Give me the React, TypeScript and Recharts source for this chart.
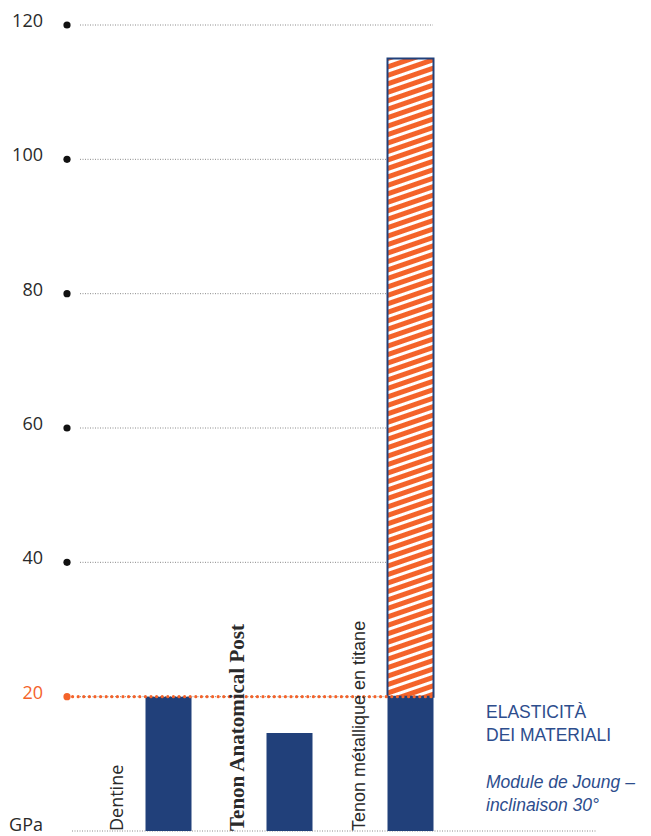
import React from "react";
import {
  BarChart,
  Bar,
  XAxis,
  YAxis,
  CartesianGrid,
  ReferenceLine,
} from "recharts";

const categories = ["Dentine", "Tenon Anatomical Post", "Tenon métallique en titane"];
const modulus = [20, 14.6, 115];
const threshold = 20;
const yTicks = [0, 20, 40, 60, 80, 100, 120];
const titleLines = ["ELASTICITÀ", "DEI MATERIALI"];
const subtitleLines = ["Module de Joung –", "inclinaison 30°"];

const data = categories.map((name, i) => ({
  name,
  base: Math.min(modulus[i], threshold),
  extra: modulus[i] > threshold ? modulus[i] - threshold : 0,
}));

const NAVY = "#21407a";
const ORANGE = "#f4632a";
const TEXT = "#2a2a2a";
const LEGEND = "#2d4d8d";

const DOT_X = 67;
const GRID_START = 80;
const GRID_END = 433;
const BASE_END = 597;
const PLOT_BOTTOM = 831;

const labelStyles = [
  { fontFamily: "Open Sans", fontSize: 18, fontWeight: 400 },
  { fontFamily: "Liberation Serif", fontSize: 21, fontWeight: 700 },
  { fontFamily: "Liberation Sans", fontSize: 18, fontWeight: 400 },
];

function YTick(props: any) {
  const { y, payload } = props;
  const v = payload.value;
  const isZero = v === 0;
  const isRef = v === threshold;
  return (
    <g>
      <text
        x={43}
        y={isZero ? y : y + 2}
        textAnchor="end"
        fontFamily="Open Sans"
        fontSize={18}
        fill={isRef ? ORANGE : TEXT}
      >
        {isZero ? "GPa" : v}
      </text>
      {!isZero && <circle cx={DOT_X} cy={y} r={3.6} fill={isRef ? ORANGE : "#111"} />}
    </g>
  );
}

function XTick(props: any) {
  const { x, payload, index } = props;
  const bx = x - 45;
  const by = PLOT_BOTTOM;
  const st = labelStyles[index] || labelStyles[0];
  return (
    <text
      x={bx}
      y={by}
      transform={`rotate(-90, ${bx}, ${by})`}
      textAnchor="start"
      fill={TEXT}
      {...st}
    >
      {payload.value}
    </text>
  );
}

function GridLine(props: any) {
  const { y1 } = props;
  const isBase = y1 > 825;
  return (
    <line
      x1={isBase ? 72 : GRID_START}
      x2={isBase ? BASE_END : GRID_END}
      y1={y1}
      y2={y1}
      stroke="#8a8a8a"
      strokeWidth={1}
      strokeDasharray="1 1.5"
    />
  );
}

function RefShape(props: any) {
  const { y1 } = props;
  return (
    <line
      x1={DOT_X}
      x2={GRID_END}
      y1={y1}
      y2={y1}
      stroke={ORANGE}
      strokeWidth={3.2}
      strokeLinecap="round"
      strokeDasharray="0 5.6"
    />
  );
}

export default function App() {
  return (
    <div style={{ position: "absolute", left: 0, top: 0, width: 651, height: 836, background: "#fff" }}>
      <BarChart
        width={651}
        height={836}
        data={data}
        margin={{ top: 25, right: 180.5, bottom: 0, left: 0 }}
      >
        <defs>
          <pattern
            id="hatch"
            patternUnits="userSpaceOnUse"
            width={20}
            height={8}
            patternTransform="rotate(-19)"
          >
            <rect x={0} y={0} width={20} height={8} fill={ORANGE} />
            <rect x={0} y={0} width={20} height={3} fill="#fff" />
          </pattern>
        </defs>
        <CartesianGrid vertical={false} horizontal={GridLine as any} />
        <YAxis
          type="number"
          domain={[0, 120]}
          ticks={yTicks}
          width={107.5}
          axisLine={false}
          tickLine={false}
          tick={YTick}
          interval={0}
        />
        <XAxis
          dataKey="name"
          height={5}
          axisLine={false}
          tickLine={false}
          tick={XTick}
          interval={0}
        />
        <Bar dataKey="base" stackId="a" fill={NAVY} barSize={46} isAnimationActive={false} />
        <Bar
          dataKey="extra"
          stackId="a"
          fill="url(#hatch)"
          stroke={NAVY}
          strokeWidth={2}
          barSize={46}
          isAnimationActive={false}
        />
        <ReferenceLine y={threshold} shape={RefShape} ifOverflow="visible" />
      </BarChart>
      <div
        style={{
          position: "absolute",
          left: 486,
          top: 701,
          fontFamily: "Liberation Sans",
          fontSize: 17.5,
          lineHeight: "23px",
          color: LEGEND,
        }}
      >
        {titleLines.map((t) => (
          <div key={t}>{t}</div>
        ))}
        <div style={{ height: 24 }} />
        {subtitleLines.map((t) => (
          <div key={t} style={{ fontStyle: "italic" }}>
            {t}
          </div>
        ))}
      </div>
    </div>
  );
}
